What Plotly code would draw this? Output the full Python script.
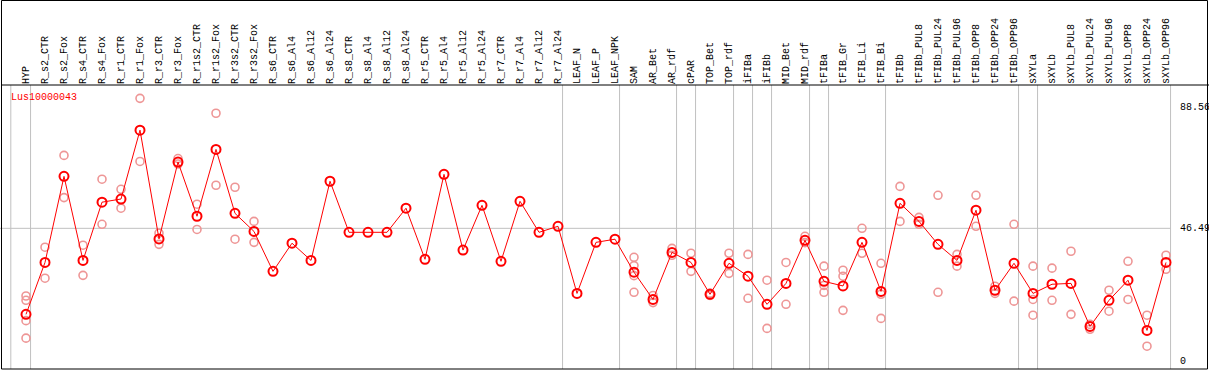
import plotly.graph_objects as go

categories = ["HYP", "R_s2_CTR", "R_s2_Fox", "R_s4_CTR", "R_s4_Fox", "R_r1_CTR", "R_r1_Fox",
              "R_r3_CTR", "R_r3_Fox", "R_r1s2_CTR", "R_r1s2_Fox", "R_r3s2_CTR", "R_r3s2_Fox",
              "R_s6_CTR", "R_s6_Al4", "R_s6_Al12", "R_s6_Al24", "R_s8_CTR", "R_s8_Al4", "R_s8_Al12",
              "R_s8_Al24", "R_r5_CTR", "R_r5_Al4", "R_r5_Al12", "R_r5_Al24", "R_r7_CTR", "R_r7_Al4",
              "R_r7_Al12", "R_r7_Al24", "LEAF_N", "LEAF_P", "LEAF_NPK", "SAM", "AR_Bet", "AR_rdf",
              "cPAR", "TOP_Bet", "TOP_rdf", "iFIBa", "iFIBb", "MID_Bet", "MID_rdf", "tFIBa",
              "tFIB_Gr", "tFIB_Li", "tFIB_Bi", "tFIBb", "tFIBb_PUL8", "tFIBb_PUL24", "tFIBb_PUL96",
              "tFIBb_OPP8", "tFIBb_OPP24", "tFIBb_OPP96", "sXYLa", "sXYLb", "sXYLb_PUL8",
              "sXYLb_PUL24", "sXYLb_PUL96", "sXYLb_OPP8", "sXYLb_OPP24", "sXYLb_OPP96"]

means = [16.5, 34.6, 64.6, 35.3, 55.6, 56.7, 80.7, 42.8, 69.6, 50.7, 74.0, 51.7, 45.4,
         31.5, 41.3, 35.3, 62.9, 45.1, 45.1, 45.1, 53.5, 35.7, 65.3, 38.9, 54.5, 35.0, 55.9,
         45.1, 47.2, 23.8, 41.6, 42.7, 31.2, 21.7, 38.1, 34.6, 23.5, 34.3, 29.8, 20.0, 27.3,
         42.3, 28.0, 26.4, 41.6, 24.5, 55.2, 48.9, 40.9, 35.3, 52.8, 24.9, 34.3, 23.8, 27.0,
         27.3, 12.3, 21.4, 28.4, 10.9, 34.6]

replicates = [
    [22.9, 21.4, 14.3, 8.2], [39.9, 29.1], [71.9, 57.2], [40.6, 30.1], [63.6, 47.9],
    [60.1, 53.5], [91.8, 69.8], [44.8, 40.9], [70.8, 68.9], [54.9, 46.1], [86.6, 61.5],
    [60.8, 42.7], [48.9, 41.6],
    [], [], [], [], [], [], [], [], [], [], [], [], [], [], [], [], [], [], [],
    [36.4, 33.5, 30.0, 24.2], [23.1, 20.6], [39.5, 37.1], [37.8, 31.5], [23.9, 23.1],
    [37.8, 30.8], [37.4, 22.1], [28.4, 11.6], [34.6, 20.0], [43.7, 41.5],
    [33.3, 26.6, 24.2], [31.9, 29.8, 17.9], [46.5, 37.8], [34.3, 23.5, 15.1],
    [61.1, 48.9], [50.3, 47.9], [58.0, 24.2], [37.4, 33.3], [58.0, 47.2], [26.3, 23.8],
    [47.9, 21.1], [33.3, 21.7, 16.2], [32.6, 21.4], [38.5, 16.5], [13.0, 11.3],
    [24.9, 17.6], [35.0, 21.7], [16.2, 5.4], [37.1, 32.2],
]

group_ends = ["HYP", "R_r7_Al24", "LEAF_NPK", "AR_rdf", "cPAR", "TOP_rdf", "iFIBa", "iFIBb",
              "MID_rdf", "tFIBa", "tFIB_Bi", "tFIBb_OPP96", "sXYLa", "sXYLb_OPP96"]

ytick_vals = [88.56, 46.49, 0]
ytick_text = ["88.56", "46.49", "0"]
gene = "Lus10000043"

W, H = 1209, 370
T, B = 85, 1
FONT = "Liberation Mono"

rep_x, rep_y = [], []
for c, reps in zip(categories, replicates):
    for r in reps:
        rep_x.append(c)
        rep_y.append(r)

fig = go.Figure()
fig.add_trace(go.Scatter(
    x=rep_x, y=rep_y, mode="markers",
    marker=dict(symbol="circle-open", size=8, color="rgb(238,150,150)", line=dict(width=1.6)),
    hoverinfo="skip", cliponaxis=False, showlegend=False))
fig.add_trace(go.Scatter(
    x=categories, y=means, mode="lines+markers",
    line=dict(color="#ff0000", width=1),
    marker=dict(symbol="circle-open", size=9, color="#ff0000", line=dict(width=2)),
    cliponaxis=False, showlegend=False))

idx = {c: i for i, c in enumerate(categories)}
shapes = []
sep_positions = [-0.8] + [idx[g] + 0.24 for g in group_ends]
for xp in sep_positions:
    shapes.append(dict(type="line", xref="x", yref="paper", x0=xp, x1=xp, y0=0, y1=1,
                       line=dict(color="#c0c0c0", width=1), layer="below"))
shapes.append(dict(type="line", xref="paper", yref="y", x0=0, x1=(26 + 19 * (60.24)) / W,
                   y0=ytick_vals[1], y1=ytick_vals[1],
                   line=dict(color="#c0c0c0", width=1), layer="below"))
ph = H - T - B
top_paper = (H - B - 0.5) / ph
shapes.append(dict(type="rect", xref="paper", yref="paper", x0=1.5 / W, x1=1207.5 / W,
                   y0=0, y1=top_paper, line=dict(color="black", width=1)))
shapes.append(dict(type="line", xref="paper", yref="paper", x0=1.5 / W, x1=1.0,
                   y0=1, y1=1, line=dict(color="black", width=1)))

annotations = [dict(text=gene, xref="paper", yref="paper", x=9 / W, y=(H - B - 97.3) / ph,
                    xanchor="left", yanchor="middle", showarrow=False,
                    font=dict(family=FONT, size=10, color="#ff0000"))]
for v, t in zip(ytick_vals, ytick_text):
    annotations.append(dict(text=t, xref="paper", yref="y", x=1178 / W, y=v,
                            xanchor="left", yanchor="middle", showarrow=False,
                            font=dict(family=FONT, size=10, color="black")))

xmin = -26 / 19
xmax = (W - 26) / 19
slope = 2.869
ymax = (361.7 - T) / slope
ymin = -((H - B) - 361.7) / slope

fig.update_layout(
    width=W, height=H,
    margin=dict(l=0, r=0, t=T, b=B, autoexpand=False),
    paper_bgcolor="white", plot_bgcolor="white",
    xaxis=dict(type="category", categoryorder="array", categoryarray=categories,
               range=[xmin, xmax], side="top", tickangle=-90, showgrid=False,
               zeroline=False, showline=False, ticks="", ticklen=0,
               tickfont=dict(family=FONT, size=10, color="black"), automargin=False),
    yaxis=dict(range=[ymin, ymax], showgrid=False, zeroline=False, showticklabels=False,
               showline=False, ticks=""),
    shapes=shapes, annotations=annotations,
)

fig.write_html("out.html", config={"displayModeBar": False},
               post_script="document.body.style.margin='0';document.body.style.overflow='hidden';")
